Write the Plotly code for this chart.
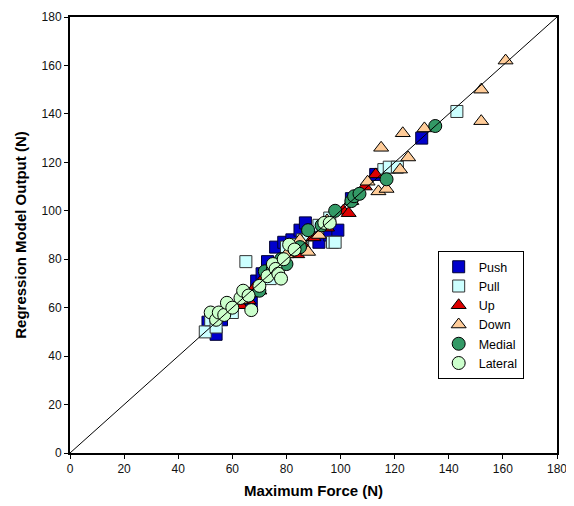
import plotly.graph_objects as go

# ---- data (Maximum Force (N), Regression Model Output (N)) ----
push_x = [51, 54, 56, 65, 67, 69, 71, 73, 76, 79, 82, 85, 87, 89, 92, 96, 99, 104, 113, 130]
push_y = [54, 49, 55, 63, 62, 71, 74, 79, 85, 87, 88, 92, 95, 91, 87, 90, 92, 105, 115, 130]

pull_x = [50, 52, 54, 60, 65, 74, 80, 83, 86, 88, 92, 96, 97, 98, 116, 118, 121, 143]
pull_y = [50, 55, 52, 58, 79, 72, 85, 86, 88, 90, 94, 97, 87, 87, 117, 118, 118, 141]

up_x = [63, 66, 68, 70, 72, 76, 79, 84, 86, 90, 95, 101, 103, 109, 113]
up_y = [61, 63, 68, 67, 73, 77, 80, 82, 86, 89, 93, 100, 99, 110, 115]

down_x = [63, 73, 78, 80, 85, 88, 92, 95, 104, 110, 114, 117, 122, 125, 115, 123, 131, 152, 152, 161]
down_y = [63, 75, 78, 82, 88, 83, 90, 96, 104, 112, 108, 109, 117, 122, 126, 132, 134, 137, 150, 162]

medial_x = [66, 70, 72, 75, 78, 80, 83, 85, 88, 93, 98, 104, 105, 107, 117, 135]
medial_y = [65, 67, 75, 76, 80, 78, 84, 85, 92, 94, 100, 104, 106, 107, 113, 135]

lateral_x = [52, 54, 55, 57, 58, 60, 63, 64, 66, 67, 70, 73, 75, 76, 77, 78, 79, 81, 83, 94, 96]
lateral_y = [58, 55, 58, 57, 62, 60, 64, 67, 65, 59, 69, 73, 78, 76, 74, 72, 80, 86, 84, 95, 95]

ref_line = [0, 180]
x_ticks = [0, 20, 40, 60, 80, 100, 120, 140, 160, 180]
y_ticks = [0, 20, 40, 60, 80, 100, 120, 140, 160, 180]

FONT = "Liberation Sans, Arial, sans-serif"

fig = go.Figure()

series = [
    ("Push", push_x, push_y, "square", "#0000CC", "#000033"),
    ("Pull", pull_x, pull_y, "square", "#CCFFFF", "#333333"),
    ("Up", up_x, up_y, "triangle-up", "#DD0000", "#000000"),
    ("Down", down_x, down_y, "triangle-up", "#FFCC99", "#000000"),
    ("Medial", medial_x, medial_y, "circle", "#339966", "#000000"),
    ("Lateral", lateral_x, lateral_y, "circle", "#CCFFCC", "#000000"),
]
for name, xs, ys, sym, fill, edge in series:
    size = 12 if sym == "square" else 13
    fig.add_trace(go.Scatter(
        x=xs, y=ys, mode="markers", name=name,
        marker=dict(symbol=sym, size=size, color=fill,
                    line=dict(color=edge, width=1)),
    ))

fig.add_trace(go.Scatter(
    x=ref_line, y=ref_line, mode="lines", showlegend=False,
    line=dict(color="black", width=1), hoverinfo="skip",
))

axis_common = dict(
    range=[0, 180], showgrid=False, zeroline=False, automargin=False,
    showline=True, linecolor="black", linewidth=2, mirror=True,
    ticks="outside", ticklen=4, tickcolor="black", tickwidth=1,
    tickfont=dict(family=FONT, size=12, color="#111111"),
)

fig.update_xaxes(
    tickvals=x_ticks, ticktext=[str(v) for v in x_ticks],
    title=dict(text="<b>Maximum Force (N)</b>", standoff=10,
               font=dict(family=FONT, size=15, color="black")),
    **axis_common,
)
fig.update_yaxes(
    tickvals=y_ticks, ticktext=[str(v) for v in y_ticks],
    title=dict(text="<b>Regression Model Output (N)</b>", standoff=11,
               font=dict(family=FONT, size=15, color="black")),
    **axis_common,
)

# page body adds an 8px offset, so the figure is 8px smaller on each side
fig.update_layout(
    width=566, height=498,
    margin=dict(l=62, r=17, t=9, b=53),
    paper_bgcolor="white", plot_bgcolor="white",
    font=dict(family=FONT, size=12, color="black"),
    legend=dict(
        x=0.755, y=0.463, xanchor="left", yanchor="top",
        bgcolor="white", bordercolor="black", borderwidth=1,
        font=dict(family=FONT, size=12.5, color="black"),
        tracegroupgap=0, itemwidth=30,
    ),
    showlegend=True,
)

fig.write_html("out.html")
